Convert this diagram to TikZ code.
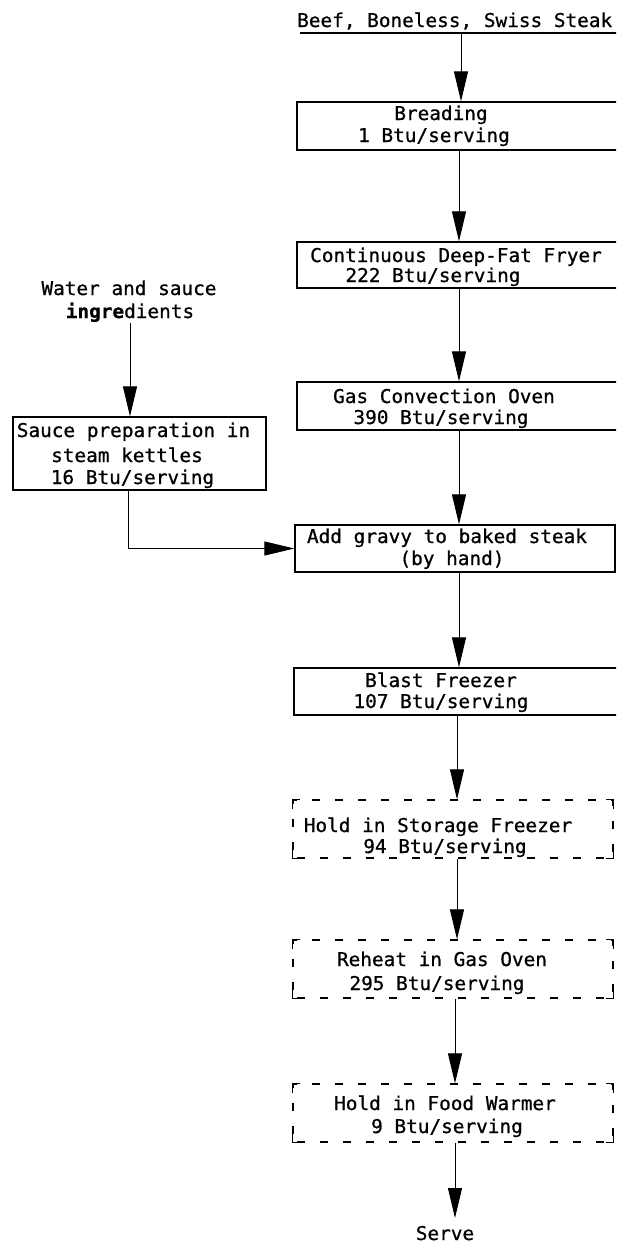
\documentclass[tikz,border=0pt]{standalone}
\usepackage{fontspec}
\newfontfamily\tw[FakeStretch=1.02,FakeBold=0.8]{DejaVu Sans Mono}
\usetikzlibrary{arrows.meta}
\tikzset{
  txt/.style={inner sep=0pt, anchor=base, font=\tw\fontsize{19}{21}\selectfont},
  sbox/.style={draw, line width=1.3pt, inner sep=0pt},
  dbox/.style={draw, line width=1.3pt, inner sep=0pt, dash pattern=on 8pt off 15pt, dash phase=-4pt},
  arr/.style={line width=1pt, -{Triangle[length=30pt,width=14pt]}},
  plain/.style={line width=1pt},
}
\begin{document}
\begin{tikzpicture}[x=1pt,y=-1pt]
\useasboundingbox (0,0) rectangle (616,1245);
\clip (0,0) rectangle (616,1245);
\fill[white] (0,0) rectangle (616,1245);
\coordinate (axis) at (459,0);
% top
\node[txt, anchor=base west] (beef) at (297,27) {Beef, Boneless, Swiss Steak};
\coordinate (ulA) at (300,33);
\coordinate (ulB) at (625,33);
\draw[line width=1.2pt] (ulA) -- (ulB);
\coordinate (ulM) at (461,33);
% boxes
\node[sbox, minimum width=325pt, minimum height=48pt] (brd) at (459.5,126) {};
\node[sbox, minimum width=325pt, minimum height=46pt] (fry) at (459.5,265) {};
\node[sbox, minimum width=325pt, minimum height=48pt] (gas) at (459.5,406) {};
\node[sbox, minimum width=320pt, minimum height=47pt] (add) at (455,548.5) {};
\node[sbox, minimum width=328pt, minimum height=47pt] (bla) at (458,691.5) {};
\node[dbox, minimum width=320pt, minimum height=58pt] (hsf) at (453,829) {};
\node[dbox, minimum width=320pt, minimum height=58pt] (rhg) at (453,969) {};
\node[dbox, minimum width=320pt, minimum height=58pt] (hfw) at (453,1113) {};
\node[sbox, minimum width=253pt, minimum height=73pt] (sau) at (139.5,453.5) {};
% dashed box corners
\foreach \b in {hsf,rhg,hfw}{
  \draw[line width=1.3pt] ([yshift=-10pt]\b.north west) -- (\b.north west) -- ([xshift=8pt]\b.north west);
  \draw[line width=1.3pt] ([yshift=-10pt]\b.north east) -- (\b.north east) -- ([xshift=-8pt]\b.north east);
  \draw[line width=1.3pt] ([yshift=10pt]\b.south west) -- (\b.south west) -- ([xshift=8pt]\b.south west);
  \draw[line width=1.3pt] ([yshift=10pt]\b.south east) -- (\b.south east) -- ([xshift=-8pt]\b.south east);
}
% texts
\node[txt] (brd1) at (441,120) {Breading};
\node[txt] (brd2) at (434,142) {1 Btu/serving};
\node[txt] (fry1) at (456,262) {Continuous Deep-Fat Fryer};
\node[txt] (fry2) at (433,282) {222 Btu/serving};
\node[txt] (gas1) at (444,403) {Gas Convection Oven};
\node[txt] (gas2) at (441,424) {390 Btu/serving};
\node[txt] (add1) at (447,543) {Add gravy to baked steak};
\node[txt] (add2) at (452,565) {(by hand)};
\node[txt] (bla1) at (441,687) {Blast Freezer};
\node[txt] (bla2) at (441,708) {107 Btu/serving};
\node[txt] (hsf1) at (438,832) {Hold in Storage Freezer};
\node[txt] (hsf2) at (445,853) {94 Btu/serving};
\node[txt] (rhg1) at (442,966) {Reheat in Gas Oven};
\node[txt] (rhg2) at (437,990) {295 Btu/serving};
\node[txt] (hfw1) at (445,1110) {Hold in Food Warmer};
\node[txt] (hfw2) at (447,1133) {9 Btu/serving};
\node[txt] (srv) at (445,1240) {Serve};
\node[txt] (wat1) at (129,295) {Water and sauce};
\node[txt] (wat2) at (130,318) {{\bfseries ingre}dients};
\node[txt] (sau1) at (133.5,437) {Sauce preparation in};
\node[txt] (sau2) at (127,462) {steam kettles};
\node[txt] (sau3) at (132.5,484) {16 Btu/serving};
% connectors
\draw[arr] (ulM) -- (brd.north -| ulM);
\draw[arr] (brd.south -| axis) -- (fry.north -| axis);
\draw[arr] (fry.south -| axis) -- (gas.north -| axis);
\draw[arr] (gas.south -| axis) -- (add.north -| axis);
\draw[arr] (add.south -| axis) -- (bla.north -| axis);
\coordinate (ax2) at (457,0);
\draw[arr] (bla.south -| ax2) -- (hsf.north -| ax2);
\draw[arr] (hsf.south -| ax2) -- (rhg.north -| ax2);
\coordinate (ax3) at (455,0);
\draw[arr] (rhg.south -| ax3) -- (hfw.north -| ax3);
\coordinate (srvtop) at (455,1218);
\draw[arr] (hfw.south -| ax3) -- (srvtop);
\coordinate (wstart) at (130,323);
\draw[arr] (wstart) -- (sau.north -| wstart);
\coordinate (bend) at (128,548.5);
\draw[arr] (sau.south -| bend) -- (bend) -- (add.west);
\end{tikzpicture}
\end{document}
